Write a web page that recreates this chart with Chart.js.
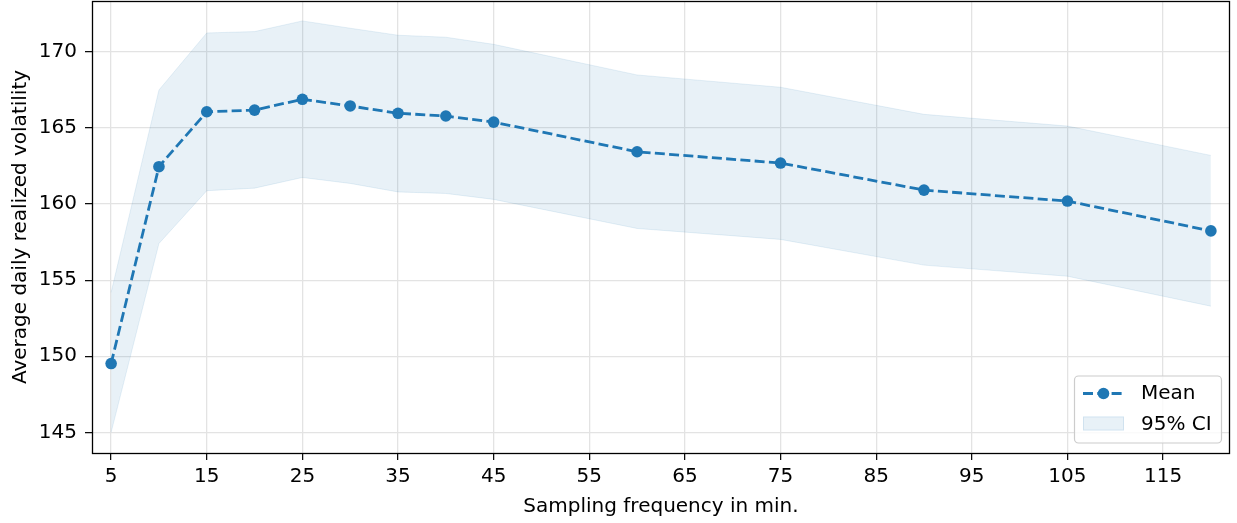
<!DOCTYPE html>
<html>
<head>
<meta charset="utf-8">
<script src="https://cdn.jsdelivr.net/npm/chart.js@4/dist/chart.umd.min.js"></script>
<style>
  html, body { margin: 0; padding: 0; background: #fff; }
  #wrap { width: 1237px; height: 523px; position: relative; }
</style>
</head>
<body>
<div id="wrap"><canvas id="c" width="1237" height="523"></canvas></div>
<script>
const freq = [5, 10, 15, 20, 25, 30, 35, 40, 45, 60, 75, 90, 105, 120];
const meanVol = [149.52, 162.46, 166.07, 166.18, 166.89, 166.45, 165.97, 165.79, 165.39, 163.44, 162.70, 160.92, 160.20, 158.24];
const upperCI = [154.2, 167.5, 171.25, 171.34, 172.04, 171.56, 171.1, 170.97, 170.50, 168.49, 167.68, 165.90, 165.13, 163.20];
const lowerCI = [145.0, 157.41, 160.88, 161.05, 161.75, 161.36, 160.8, 160.70, 160.31, 158.40, 157.68, 155.99, 155.26, 153.29];
const xTicks = [5, 15, 25, 35, 45, 55, 65, 75, 85, 95, 105, 115];
const yTicks = [145, 150, 155, 160, 165, 170];
const xLabel = 'Sampling frequency in min.';
const yLabel = 'Average daily realized volatility';
const legendLabels = ['Mean', '95% CI'];

const BLUE = '#1f77b4';
const FILL = 'rgba(31,119,180,0.1)';
const FONT = 'DejaVu Sans';
const FS = 20;

const toXY = (ys) => freq.map((x, i) => ({ x: x, y: ys[i] }));

const frame = {
  id: 'frame',
  afterDraw(chart) {
    const { ctx, chartArea: a } = chart;
    ctx.save();
    ctx.strokeStyle = '#000';
    ctx.lineWidth = 1.3;
    const L = Math.round(a.left) + 0.5, T = Math.round(a.top) + 0.5;
    const R = Math.round(a.right) - 0.5, B = Math.round(a.bottom) + 0.5;
    ctx.strokeRect(L, T, R - L, B - T);

    // legend
    const lx = 1074, ly = 375.5, lw = 147, lh = 67;
    ctx.beginPath();
    ctx.roundRect(lx + 0.5, ly + 0.5, lw, lh, 4);
    ctx.fillStyle = 'rgba(255,255,255,0.8)';
    ctx.fill();
    ctx.strokeStyle = '#cccccc';
    ctx.lineWidth = 1.2;
    ctx.stroke();

    // Mean handle
    const hy = 393.5;
    ctx.strokeStyle = BLUE;
    ctx.lineWidth = 2.8;
    ctx.setLineDash([10, 4.3]);
    ctx.beginPath();
    ctx.moveTo(1083, hy);
    ctx.lineTo(1124, hy);
    ctx.stroke();
    ctx.setLineDash([]);
    ctx.fillStyle = BLUE;
    ctx.beginPath();
    ctx.arc(1103.5, hy, 5.8, 0, Math.PI * 2);
    ctx.fill();

    // CI patch
    ctx.fillStyle = FILL;
    ctx.fillRect(1083, 416.5, 41, 14);
    ctx.strokeStyle = 'rgba(31,119,180,0.12)';
    ctx.lineWidth = 1;
    ctx.strokeRect(1083.5, 417, 40, 13);

    ctx.fillStyle = '#000';
    ctx.font = FS + 'px "' + FONT + '"';
    ctx.textBaseline = 'middle';
    ctx.textAlign = 'left';
    ctx.fillText(legendLabels[0], 1141, hy + 0.5);
    ctx.fillText(legendLabels[1], 1141, 424.5);
    ctx.restore();
  }
};

new Chart(document.getElementById('c'), {
  type: 'line',
  data: {
    datasets: [
      {
        label: legendLabels[0],
        data: toXY(meanVol),
        borderColor: BLUE,
        backgroundColor: BLUE,
        borderWidth: 2.8,
        borderDash: [10, 4.3],
        pointRadius: 5.8,
        pointBorderWidth: 0,
        pointBackgroundColor: BLUE,
        fill: false,
        tension: 0,
        order: 0
      },
      {
        label: 'upper',
        data: toXY(upperCI),
        borderColor: 'rgba(31,119,180,0.1)',
        borderWidth: 1,
        pointRadius: 0,
        backgroundColor: FILL,
        fill: '+1',
        tension: 0,
        order: 1
      },
      {
        label: 'lower',
        data: toXY(lowerCI),
        borderColor: 'rgba(31,119,180,0.1)',
        borderWidth: 1,
        pointRadius: 0,
        fill: false,
        tension: 0,
        order: 1
      }
    ]
  },
  options: {
    responsive: false,
    animation: false,
    layout: { autoPadding: false, padding: { left: 0, right: 7, top: 1, bottom: 0 } },
    plugins: {
      legend: { display: false },
      tooltip: { enabled: false }
    },
    scales: {
      x: {
        type: 'linear',
        min: 3,
        max: 122,
        afterBuildTicks: (s) => { s.ticks = xTicks.map(v => ({ value: v })); },
        afterFit: (s) => { s.height = 70; s.paddingLeft = 0; s.paddingRight = 0; },
        grid: { color: '#e3e3e3', lineWidth: 1.3, tickColor: '#000', tickLength: 7, tickWidth: 1.2, drawTicks: true },
        border: { display: false },
        ticks: { color: '#000', font: { family: FONT, size: FS }, padding: 5, maxRotation: 0, autoSkip: false },
        title: { display: true, text: xLabel, color: '#000', font: { family: FONT, size: FS }, padding: { top: 0, bottom: 4 } }
      },
      y: {
        type: 'linear',
        min: 143.64,
        max: 173.35,
        afterBuildTicks: (s) => { s.ticks = yTicks.map(v => ({ value: v })); },
        afterFit: (s) => { s.width = 92; s.paddingTop = 0; s.paddingBottom = 0; },
        grid: { color: '#e3e3e3', lineWidth: 1.3, tickColor: '#000', tickLength: 7, tickWidth: 1.2 },
        border: { display: false },
        ticks: { color: '#000', font: { family: FONT, size: FS }, padding: 8, autoSkip: false },
        title: { display: true, text: yLabel, color: '#000', font: { family: FONT, size: FS }, padding: { top: 9, bottom: 0 } }
      }
    }
  },
  plugins: [frame]
});
</script>
</body>
</html>
